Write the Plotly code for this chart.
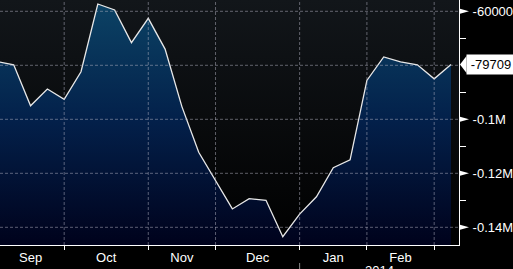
import plotly.graph_objects as go

# ---- data (weekly readings, week index; Sep 2013 .. Feb 2014) ----
week_index = list(range(-1, 27))
values = [-78600, -79800, -95000, -88800, -92600, -82400, -57300, -59500,
          -71600, -62600, -74000, -95300, -112200, -122500, -133200, -129400,
          -130000, -143500, -135100, -128700, -117900, -115000, -85600, -76900,
          -78700, -79800, -85000, -79709]

month_labels = ["Sep", "Oct", "Nov", "Dec", "Jan", "Feb"]
month_starts = [-1, 3, 8, 12, 17, 21, 25]   # week index where each month begins
year_label = "2014"
year_start = 17

y_major = [-60000, -80000, -100000, -120000, -140000]
y_major_text = ["-60000", "", "-0.1M", "-0.12M", "-0.14M"]
y_minor = [-70000, -90000, -110000, -130000]

x_range = [-0.816, 26.476]
y_range = [-146556, -55815]

W, H = 513, 269
ML, MR, MT, MB = 0, 54, 0, 24
PW = W - ML - MR
PH = H - MT - MB
px_y = (y_range[1] - y_range[0]) / PH   # data units per pixel (y)

month_centers = [(month_starts[i] + month_starts[i + 1]) / 2 for i in range(len(month_labels))]

fig = go.Figure()

# plot background gradient
fig.add_trace(go.Scatter(x=x_range, y=[y_range[0]] * 2, mode="lines",
                         line=dict(width=0, color="rgba(0,0,0,0)"), hoverinfo="skip", showlegend=False))
fig.add_trace(go.Scatter(x=x_range, y=[y_range[1]] * 2, mode="lines", fill="tonexty",
                         fillgradient=dict(type="vertical", colorscale=[[0, "#000000"], [1, "#12161a"]],
                                           start=y_range[0], stop=y_range[1]),
                         line=dict(width=0, color="rgba(0,0,0,0)"), hoverinfo="skip", showlegend=False))

# area baseline
fig.add_trace(go.Scatter(x=week_index, y=[y_range[0]] * len(week_index), mode="lines",
                         line=dict(width=0, color="rgba(0,0,0,0)"), hoverinfo="skip", showlegend=False))
# data area
fig.add_trace(go.Scatter(x=week_index, y=values, mode="lines", fill="tonexty",
                         fillgradient=dict(type="vertical",
                                           colorscale=[[0, "#00021c"], [0.5, "#03204a"], [1, "#0c4466"]],
                                           start=y_range[0], stop=-55000),
                         line=dict(width=1.3, color="#e8e8e8"), showlegend=False))

# helper trace for boundary tick axis
fig.add_trace(go.Scatter(x=x_range, y=[y_range[0]] * 2, xaxis="x2", mode="lines",
                         line=dict(width=0, color="rgba(0,0,0,0)"), hoverinfo="skip", showlegend=False))

shapes = []
grid_line = dict(color="rgba(180,180,195,0.5)", width=1, dash="3px,2px")
for b in month_starts[1:]:
    shapes.append(dict(type="line", xref="x", yref="paper", x0=b, x1=b, y0=0, y1=1,
                       line=grid_line, layer="above"))
for v in y_major:
    shapes.append(dict(type="line", xref="paper", yref="y", x0=0, x1=1, y0=v, y1=v,
                       line=grid_line, layer="above"))
# label pointer triangles
for v, t in zip(y_major, y_major_text):
    if t:
        h = 2.5 * px_y
        shapes.append(dict(type="path", xref="paper", yref="y",
                           path=f"M {1 + 1/PW},{v + h} L {1 + 10/PW},{v} L {1 + 1/PW},{v - h} Z",
                           fillcolor="white", line=dict(width=0), layer="above"))
# last value pointer
last = values[-1]
hh = 8.5 * px_y
shapes.append(dict(type="path", xref="paper", yref="y",
                   path=f"M {1 + 1/PW},{last} L {1 + 7.5/PW},{last + hh} L {1 + 7.5/PW},{last - hh} Z",
                   fillcolor="white", line=dict(width=0), layer="above"))
# year separator tick
shapes.append(dict(type="line", xref="x", yref="paper", x0=year_start, x1=year_start,
                   y0=-18 / PH, y1=-26 / PH, line=dict(color="#888888", width=1)))

annotations = [
    dict(xref="paper", yref="y", x=1 + 7/PW, y=last, xanchor="left", yanchor="middle",
         text=f"{last}", showarrow=False, bgcolor="white", borderpad=2, width=44,
         font=dict(color="black", size=13, family="Liberation Sans")),
    dict(xref="x", yref="paper", x=(year_start + x_range[1]) / 2, y=-16 / PH,
         xanchor="center", yanchor="top", text=year_label, showarrow=False,
         font=dict(color="white", size=13, family="Liberation Sans")),
]

fig.update_layout(
    width=W, height=H,
    margin=dict(l=ML, r=MR, t=MT, b=MB, autoexpand=False),
    paper_bgcolor="black", plot_bgcolor="black",
    showlegend=False,
    shapes=shapes, annotations=annotations,
    xaxis=dict(range=x_range, tickmode="array", tickvals=month_centers, ticktext=month_labels,
               ticks="", showgrid=False, zeroline=False, showline=True, linecolor="white",
               linewidth=1, automargin=False,
               tickfont=dict(color="white", size=13, family="Liberation Sans")),
    xaxis2=dict(range=x_range, overlaying="x", anchor="y", side="bottom", tickmode="array",
                tickvals=month_starts[1:], ticks="outside", ticklen=4, tickcolor="white",
                automargin=False,
                showticklabels=False, showgrid=False, zeroline=False, showline=False),
    yaxis=dict(range=y_range, side="right", tickmode="array", tickvals=y_major, ticktext=y_major_text,
               ticks="outside", ticklen=10, tickcolor="rgba(0,0,0,0)", showgrid=False, zeroline=False,
               automargin=False,
               showline=True, linecolor="white", linewidth=1,
               tickfont=dict(color="white", size=13, family="Liberation Sans"),
               minor=dict(tickmode="array", tickvals=y_minor, ticks="outside", ticklen=6,
                          tickcolor="white", showgrid=False)),
)

fig.write_html("out.html")
